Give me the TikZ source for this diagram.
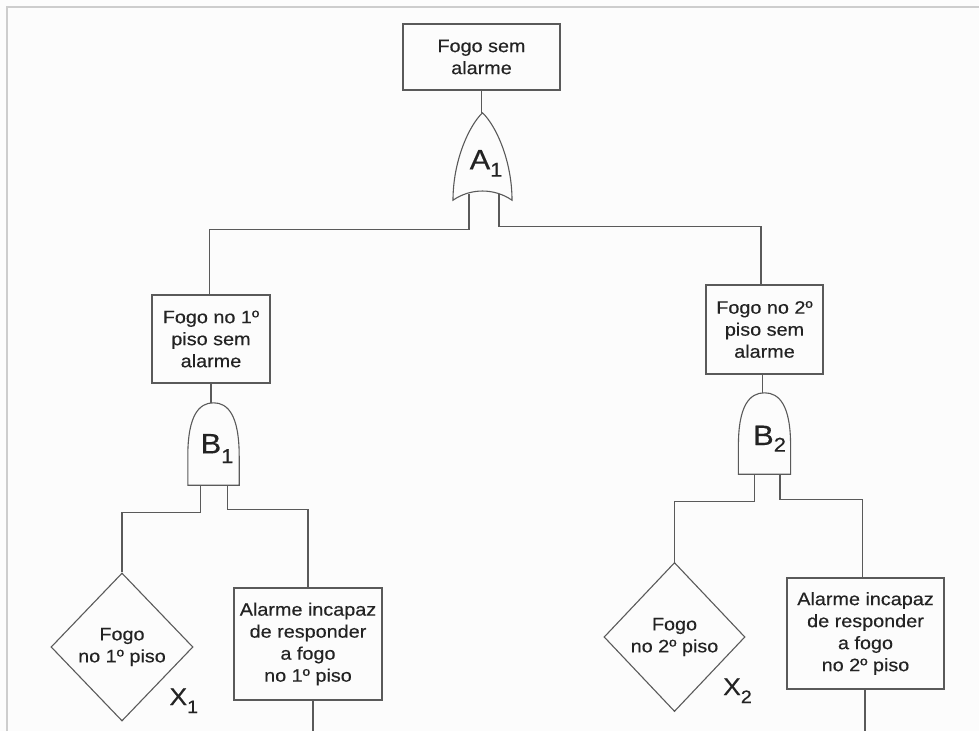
\documentclass[tikz,border=0pt]{standalone}
\usepackage{fontspec}
\setmainfont{Liberation Sans}[FakeStretch=1.1,FakeBold=0.35]
\usetikzlibrary{shapes.geometric,calc}
\definecolor{bg}{RGB}{252,252,252}
\definecolor{lc}{RGB}{90,90,90}
\definecolor{tc}{RGB}{35,35,35}
\definecolor{fr}{RGB}{205,205,205}
\newcommand\mysub[3]{\raisebox{-#1}{\fontsize{#2}{#2}\selectfont #3}}
\newcommand\orgate[1]{%
  \draw[ln] let \p1=(#1.south west), \p2=(#1.north east) in
  (\x1,\y1) .. controls (\x1,{\y1+0.46*(\y2-\y1)}) and ({\x1+0.28*(\x2-\x1)},{\y1+0.86*(\y2-\y1)}) .. ({0.5*(\x1+\x2)},\y2)
  .. controls ({\x1+0.72*(\x2-\x1)},{\y1+0.86*(\y2-\y1)}) and (\x2,{\y1+0.46*(\y2-\y1)}) .. (\x2,\y1)
  .. controls ({\x1+0.7*(\x2-\x1)},{\y1+0.14*(\y2-\y1)}) and ({\x1+0.3*(\x2-\x1)},{\y1+0.14*(\y2-\y1)}) .. cycle;}
\newcommand\andgate[1]{%
  \draw[ln] let \p1=(#1.south west), \p2=(#1.north east) in
  (\x1,\y1) -- (\x1,{\y1+0.35*(\y2-\y1)})
  .. controls (\x1,{\y1+0.85*(\y2-\y1)}) and ({\x1+0.22*(\x2-\x1)},\y2) .. ({0.5*(\x1+\x2)},\y2)
  .. controls ({\x1+0.78*(\x2-\x1)},\y2) and (\x2,{\y1+0.85*(\y2-\y1)}) .. (\x2,{\y1+0.35*(\y2-\y1)})
  -- (\x2,\y1) -- cycle;}
\begin{document}
\begin{tikzpicture}[x=1pt,y=-1pt,
  ln/.style={draw=lc,line width=1.1pt},
  box/.style={draw=lc,line width=1.1pt,rectangle,inner sep=0pt,align=center,text=tc,font=\fontsize{18}{22}\selectfont},
  dia/.style={draw=lc,line width=1.1pt,diamond,inner sep=0pt,align=center,text=tc,font=\fontsize{18}{22}\selectfont},
  gatebox/.style={rectangle,inner sep=0pt},
  glab/.style={inner sep=0pt,anchor=base west,text=tc,font=\fontsize{28}{28}\selectfont},
  xlab/.style={inner sep=0pt,anchor=base west,text=tc,font=\fontsize{24}{24}\selectfont}]

\path[use as bounding box, fill=bg] (0,0) rectangle (979,731);
\draw[fr,line width=1.6pt] (7,731) -- (7,7) -- (979,7);

\node[box,minimum width=157,minimum height=66] (top) at (481.5,57) {Fogo sem\\alarme};
\node[gatebox,minimum width=58.6,minimum height=87] (gA) at (482.5,156.5) {};
\node[box,minimum width=118,minimum height=88] (bL) at (211,339) {Fogo no 1º\\piso sem\\alarme};
\node[box,minimum width=117,minimum height=89] (bR) at (764.5,329.5) {Fogo no 2º\\piso sem\\alarme};
\node[gatebox,minimum width=51,minimum height=82] (gB1) at (213.5,444) {};
\node[gatebox,minimum width=51.8,minimum height=81] (gB2) at (764.5,433.5) {};
\node[dia,minimum width=142,minimum height=148,aspect=0.96] (dX1) at (122,647) {Fogo\\no 1º piso};
\node[dia,minimum width=141,minimum height=149,aspect=0.95] (dX2) at (674.5,637) {Fogo\\no 2º piso};
\node[box,minimum width=148,minimum height=112] (aL) at (308,644) {Alarme incapaz\\de responder\\a fogo\\no 1º piso};
\node[box,minimum width=157,minimum height=111] (aR) at (865.5,633.5) {Alarme incapaz\\de responder\\a fogo\\no 2º piso};

\node[glab] (lA) at (469.5,169.3) {A\mysub{7.4pt}{20}{1}};
\node[glab] (lB1) at (200.5,453.3) {B\mysub{9.7pt}{20}{1}};
\node[glab] (lB2) at (753,445) {B\mysub{6.7pt}{20}{2}};
\node[xlab] (lX1) at (169.3,705) {X\mysub{8pt}{18}{1}};
\node[xlab] (lX2) at (723,695) {X\mysub{8pt}{18}{2}};

\orgate{gA}
\andgate{gB1}
\andgate{gB2}

\draw[ln] (top.south) -- (top.south |- gA.north);
\draw[ln] ([xshift=-13.5pt,yshift=6pt]gA.south) -- ++(0,35) -| ([xshift=-1.5pt]bL.north);
\draw[ln] ([xshift=16.5pt,yshift=6pt]gA.south) -- ++(0,32) -| ([xshift=-3.5pt]bR.north);
\draw[ln] (bL.south) -- (bL.south |- gB1.north);
\draw[ln] ([xshift=-2pt]bR.south) -- ([xshift=-2pt]gB2.north);
\draw[ln] ([xshift=-12.8pt]gB1.south) -- ++(0,27) -| (dX1.north);
\draw[ln] ([xshift=14.2pt]gB1.south) -- ++(0,24) -| (aL.north);
\draw[ln] ([xshift=-10.2pt]gB2.south) -- ++(0,27.7) -| (dX2.north);
\draw[ln] ([xshift=15.5pt]gB2.south) -- ++(0,25) -| ([xshift=-3pt]aR.north);
\coordinate (eL) at (313,731);
\coordinate (eR) at (865,731);
\draw[ln] (eL |- aL.south) -- (eL);
\draw[ln] (eR |- aR.south) -- (eR);
\end{tikzpicture}
\end{document}
